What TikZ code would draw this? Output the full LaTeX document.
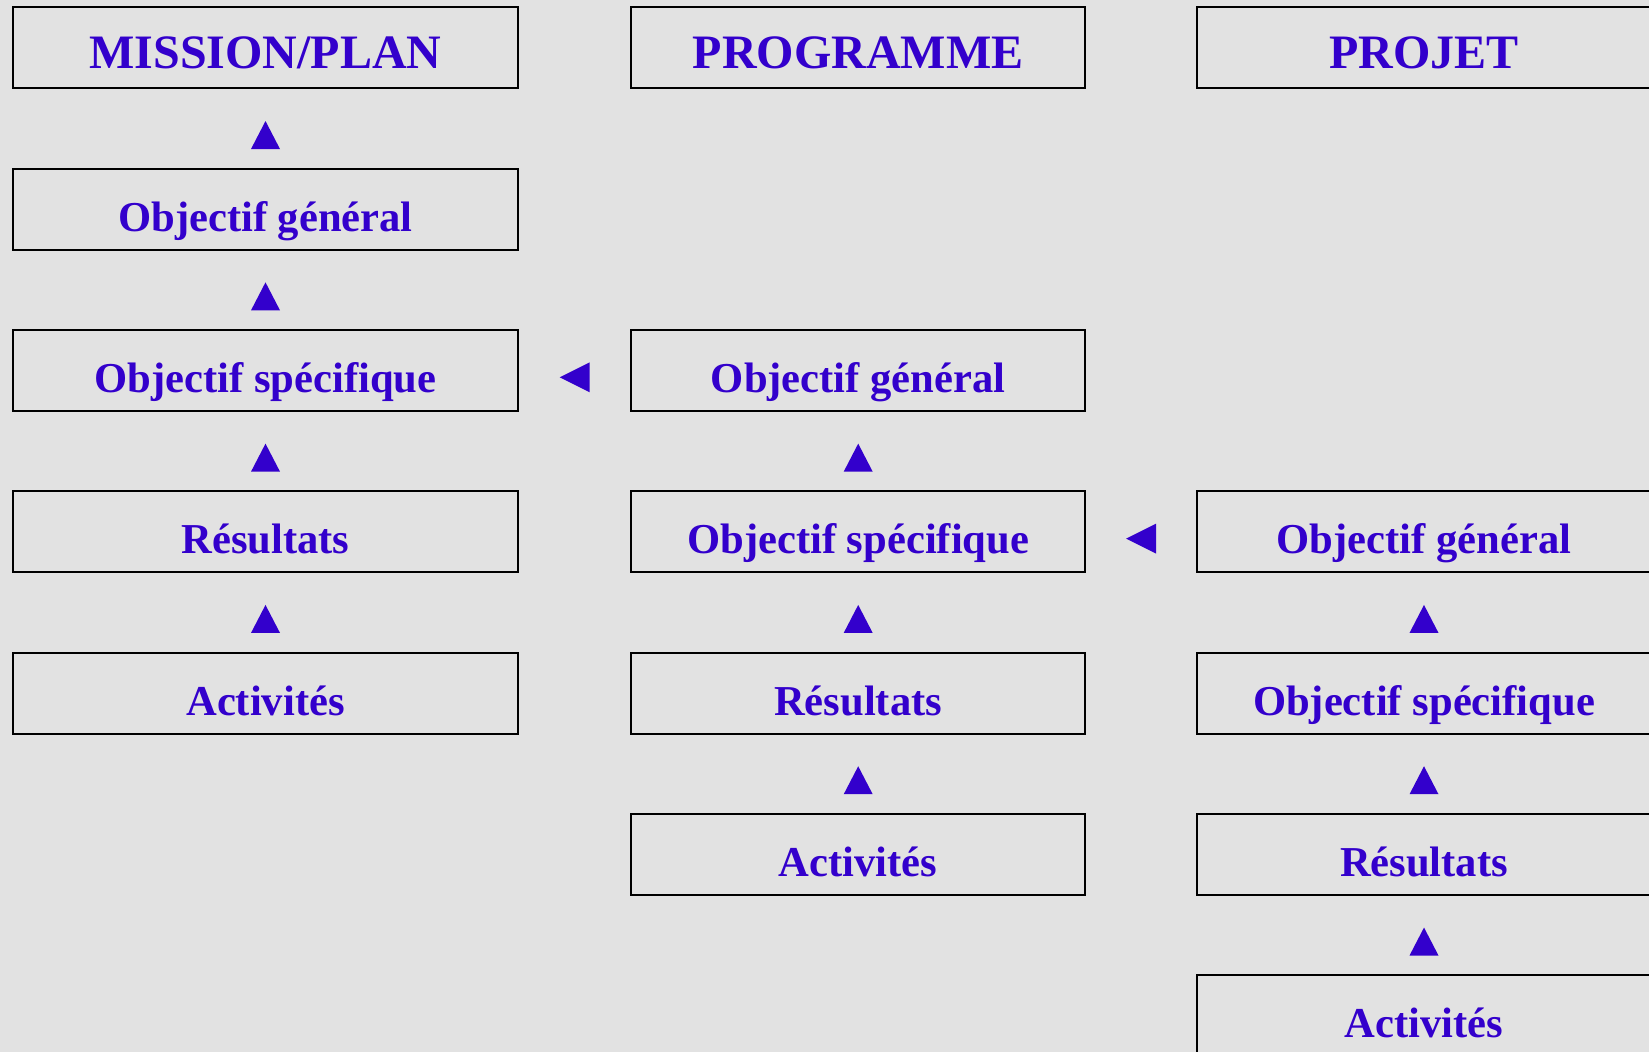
\documentclass[tikz,border=0pt]{standalone}
\usepackage{fontspec}
\setmainfont{Liberation Serif}
\usetikzlibrary{calc}
\definecolor{bg}{HTML}{E2E2E2}
\definecolor{ink}{HTML}{3300CC}
\begin{document}
\begin{tikzpicture}[x=0.5pt,y=-0.5pt,
  box/.style={draw=black,line width=1.05pt,inner sep=0pt,
    text height=31.3pt,text depth=9.2pt,text=ink,align=center,
    font=\bfseries\fontsize{21.3}{24}\selectfont},
  wide/.style={box,minimum width=252.9pt},
  narrow/.style={box,minimum width=227.2pt},
  head/.style={font=\bfseries\fontsize{24}{28}\selectfont,
    text height=30.7pt,text depth=9.8pt},
  uptri/.pic={\fill[ink] (-14.5,14) -- (14.5,14) -- (0,-14) -- cycle;},
  lefttri/.pic={\fill[ink] (15,-15) -- (15,15) -- (-15,0) -- cycle;}]
\fill[bg] (0,0) rectangle (1649,1052);
\useasboundingbox (0,0) rectangle (1649,1052);
\clip (0,0) rectangle (1649,1052);

% column 1: mission / plan
\node[wide,head] (m0) at (265.5,47.9)  {MISSION/PLAN};
\node[wide] (m1) at (265.5,209.2) {Objectif général};
\node[wide] (m2) at (265.5,370.5) {Objectif spécifique};
\node[wide] (m3) at (265.5,531.8) {Résultats};
\node[wide] (m4) at (265.5,693.1) {Activités};

% column 2: programme
\node[narrow,head] (p0) at (858.2,47.9) {PROGRAMME};
\node[narrow] (p2) at (858.2,370.5) {Objectif général};
\node[narrow] (p3) at (858.2,531.8) {Objectif spécifique};
\node[narrow] (p4) at (858.2,693.1) {Résultats};
\node[narrow] (p5) at (858.2,854.4) {Activités};

% column 3: projet
\node[narrow,head] (j0) at (1424,47.9) {PROJET};
\node[narrow] (j3) at (1424,531.8)  {Objectif général};
\node[narrow] (j4) at (1424,693.1)  {Objectif spécifique};
\node[narrow] (j5) at (1424,854.4)  {Résultats};
\node[narrow] (j6) at (1424,1015.7) {Activités};

% upward markers inside each column
\foreach \lo/\hi in {m1/m0,m2/m1,m3/m2,m4/m3,p3/p2,p4/p3,p5/p4,j4/j3,j5/j4,j6/j5}
  \path ($(\hi.south)!0.5!(\lo.north)+(0,6.5)$) pic{uptri};

% leftward markers between columns
\path ($(m2.east)!0.5!(p2.west)+(0,6.8)$) pic{lefttri};
\path ($(p3.east)!0.5!(j3.west)+(0,6.8)$) pic{lefttri};
\end{tikzpicture}
\end{document}
